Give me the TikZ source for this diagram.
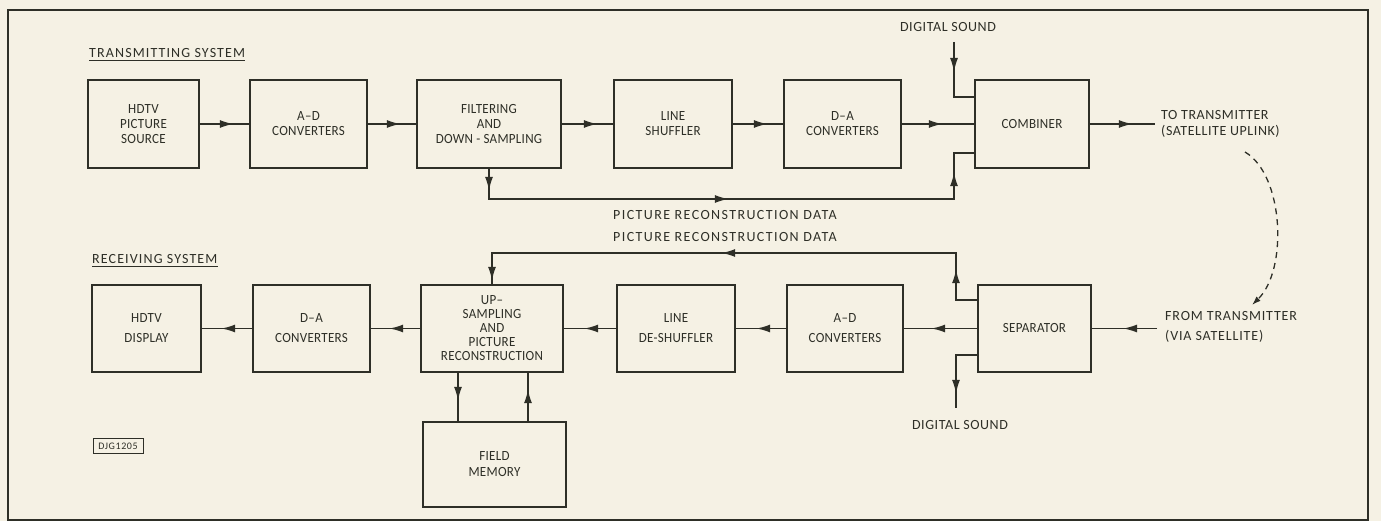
\documentclass[tikz,border=0pt]{standalone}
\usepackage{fontspec}
\setmainfont{Carlito}[LetterSpace=4]
\newfontfamily\boxfont{Carlito}[FakeStretch=0.93,LetterSpace=2]
\newfontfamily\wideA{Carlito}[LetterSpace=10]
\newfontfamily\wideB{Carlito}[LetterSpace=8]
\newfontfamily\wideC{Carlito}[LetterSpace=6]
\usetikzlibrary{arrows.meta,decorations.markings}
\definecolor{paper}{HTML}{F5F1E4}
\definecolor{ink}{HTML}{2E2F27}
\begin{document}
\begin{tikzpicture}[x=1pt,y=-1pt,
  box/.style={draw=ink, line width=1.7pt, inner sep=0pt, align=center, text=ink, font=\boxfont\fontsize{14}{15}\selectfont},
  rbox/.style={box, font=\boxfont\fontsize{14}{20}\selectfont},
  lbl/.style={text=ink, inner sep=0pt, font=\fontsize{14}{16}\selectfont},
  wire/.style={draw=ink, line width=1.8pt},
  tipat/.style={postaction={decorate,decoration={markings,mark=at position #1 with {\arrow{Latex[length=14pt,width=8pt]}}}}}
]
\useasboundingbox (0,0) rectangle (1381,521);
\fill[paper] (0,0) rectangle (1381,521);
\draw[ink, line width=2.2pt] (8,10) rectangle (1368,520);

% transmitting system
\node[lbl, anchor=west, font=\wideB\fontsize{14}{16}\selectfont] (ts) at (89,53) {TRANSMITTING SYSTEM};
\draw[ink, line width=1pt] ([yshift=-3pt]ts.south west) -- ([yshift=-3pt]ts.south east);

\node[box, minimum width=111pt, minimum height=88pt] (T1) at (143.5,124) {HDTV\\PICTURE\\SOURCE};
\node[box, minimum width=117pt, minimum height=88pt] (T2) at (308.5,124) {A–D\\CONVERTERS};
\node[box, minimum width=144pt, minimum height=88pt] (T3) at (489,124) {FILTERING\\AND\\DOWN - SAMPLING};
\node[box, minimum width=118pt, minimum height=88pt] (T4) at (673,124) {LINE\\SHUFFLER};
\node[box, minimum width=117pt, minimum height=88pt] (T5) at (842.5,124) {D–A\\CONVERTERS};
\node[box, minimum width=114pt, minimum height=88pt] (T6) at (1032,124) {COMBINER};

\draw[wire, tipat=34pt] (T1.east) -- (T2.west);
\draw[wire, tipat=33pt] (T2.east) -- (T3.west);
\draw[wire, tipat=36pt] (T3.east) -- (T4.west);
\draw[wire, tipat=35pt] (T4.east) -- (T5.west);
\draw[wire, tipat=41pt] (T5.east) -- (T6.west);

\node[lbl, anchor=base] (dsTl) at (948,32) {DIGITAL SOUND};
\coordinate (dsT) at (954,42);
\draw[wire, tipat=30pt] (dsT) |- ([yshift=27pt]T6.west);

\draw[wire, tipat=22pt, tipat=270pt, tipat=522pt]
  (T3.south) |- (954,199) |- ([yshift=-29pt]T6.west);
\node[lbl, anchor=base, font=\wideA\fontsize{14}{16}\selectfont] (prd1) at (725,220) {PICTURE RECONSTRUCTION DATA};

\coordinate (outT) at (1155,124);
\draw[wire, tipat=43pt] (T6.east) -- (outT);
\node[lbl, anchor=west, align=left] (toT) at (1161,124) {TO TRANSMITTER\\(SATELLITE UPLINK)};

\draw[ink, line width=1.3pt, dash pattern=on 6pt off 5pt, -{Latex[length=9pt,width=6pt]}]
  (1245,152) .. controls (1284,175) and (1288,270) .. (1252,305);

% receiving system
\node[lbl, anchor=west, font=\wideB\fontsize{14}{16}\selectfont] (rs) at (92,259) {RECEIVING SYSTEM};
\draw[ink, line width=1pt] ([yshift=-3pt]rs.south west) -- ([yshift=-3pt]rs.south east);

\node[rbox, minimum width=109pt, minimum height=87pt] (R1) at (146.5,328.5) {HDTV\\DISPLAY};
\node[rbox, minimum width=117pt, minimum height=87pt] (R2) at (311.5,328.5) {D–A\\CONVERTERS};
\node[box, font=\boxfont\fontsize{14}{14}\selectfont, minimum width=142pt, minimum height=87pt] (R3) at (492,328.5) {UP–\\SAMPLING\\AND\\PICTURE\\RECONSTRUCTION};
\node[rbox, minimum width=118pt, minimum height=87pt] (R4) at (676,328.5) {LINE\\DE-SHUFFLER};
\node[rbox, minimum width=116pt, minimum height=87pt] (R5) at (845,328.5) {A–D\\CONVERTERS};
\node[rbox, minimum width=113pt, minimum height=87pt] (R6) at (1034.5,328.5) {SEPARATOR};
\node[box, font=\boxfont\fontsize{14}{16}\selectfont, minimum width=143pt, minimum height=85pt] (FM) at (494.5,464.5) {FIELD\\MEMORY};

\coordinate (inR) at (1157,328.5);
\draw[wire, tipat=34pt] (inR) -- (R6.east);
\node[lbl, anchor=west, align=left, font=\wideC\fontsize{14}{20}\selectfont] (fromT) at (1165,327) {FROM TRANSMITTER\\(VIA SATELLITE)};

\draw[wire, tipat=46pt] (R6.west) -- (R5.east);
\draw[wire, tipat=30pt] (R5.west) -- (R4.east);
\draw[wire, tipat=32pt] (R4.west) -- (R3.east);
\draw[wire, tipat=31pt] (R3.west) -- (R2.east);
\draw[wire, tipat=31pt] (R2.west) -- (R1.east);

\draw[wire, tipat=52pt, tipat=303pt, tipat=560pt]
  ([yshift=28.5pt]R6.west) -| (956,253) -| (R3.north);
\node[lbl, anchor=base, font=\wideA\fontsize{14}{16}\selectfont] (prd2) at (725,242) {PICTURE RECONSTRUCTION DATA};

\coordinate (dsR) at (956,408);
\draw[wire, tipat=60pt] ([yshift=-26.5pt]R6.west) -| (dsR);
\node[lbl] (dsRl) at (960,425) {DIGITAL SOUND};

\draw[wire, tipat=28pt] ([xshift=-34pt]R3.south) -- ([xshift=-36.5pt]FM.north);
\draw[wire, tipat=32pt] ([xshift=33.5pt]FM.north) -- ([xshift=36pt]R3.south);

\node[draw=ink, line width=0.7pt, text=ink, font=\wideC\fontsize{10}{11}\selectfont, minimum width=50pt, minimum height=15pt, inner sep=0pt] (djg) at (118,446) {DJG1205};
\end{tikzpicture}
\end{document}
